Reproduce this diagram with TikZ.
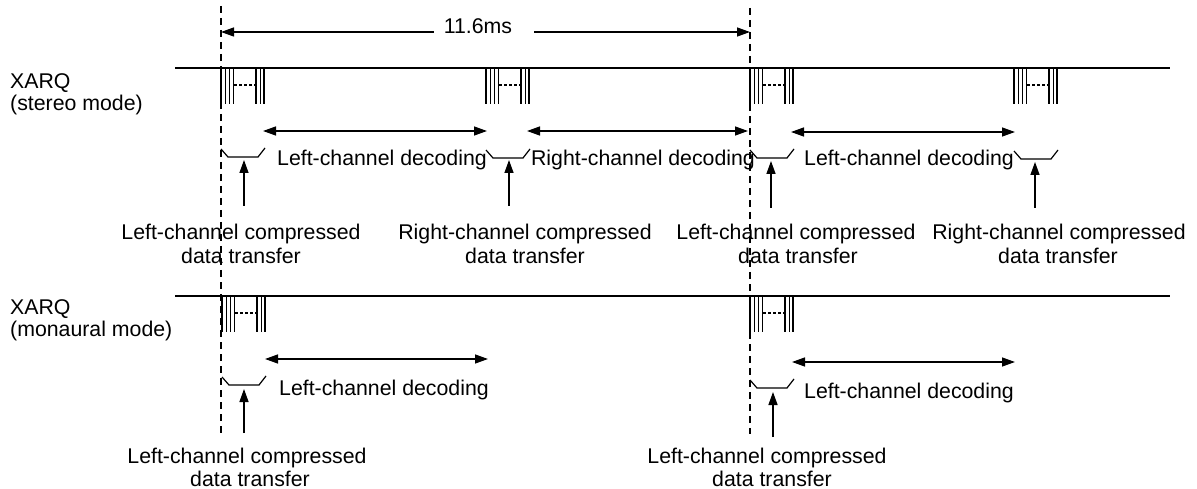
\documentclass[tikz,border=0pt]{standalone}
\usepackage{fontspec}
\setmainfont{Liberation Sans}
\usetikzlibrary{arrows.meta}
\newcommand\xburst[2]{%
  \draw[burstline] (#1,#2) -- ++(0,36) ({#1+4.3},#2) -- ++(0,36) ({#1+8.6},#2) -- ++(0,36) ({#1+12.4},#2) -- ++(0,36)
    ({#1+35},#2) -- ++(0,36) ({#1+39.3},#2) -- ++(0,36) ({#1+43},#2) -- ++(0,36);
  \draw[burstdash] ({#1+13},{#2+17}) -- ({#1+34},{#2+17});}
\newcommand\xbrk[2]{%
  \draw[brk] (#1,#2) -- ({#1+7},{#2+8}) -- ({#1+37},{#2+8}) -- ({#1+44},{#2-1});}
\begin{document}
\begin{tikzpicture}[x=1pt,y=-1pt,
  lbl/.style={font=\fontsize{21.3}{24}\selectfont, inner sep=0pt, anchor=base},
  side/.style={font=\fontsize{21.3}{22}\selectfont, inner sep=0pt, align=left, anchor=north west},
  baseline/.style={line width=2pt},
  guide/.style={line width=1.3pt, dash pattern=on 7pt off 5pt},
  burstline/.style={line width=1.6pt},
  burstdash/.style={line width=1.2pt, dash pattern=on 3pt off 2pt},
  tip/.tip={Triangle[length=13pt,width=9pt]},
  dec/.style={line width=1.4pt, tip-tip},
  dimarrow/.style={line width=1.3pt, -tip},
  up/.style={line width=1.4pt, -tip},
  brk/.style={line width=1.2pt}]
\useasboundingbox (0,0) rectangle (1197,489);

% guide lines
\coordinate (gAt) at (221,6);
\coordinate (gAb) at (221,433);
\coordinate (gBt) at (750,8);
\coordinate (gBb) at (750,434);
\draw[guide] (gAt) -- (gAb);
\draw[guide] (gBt) -- (gBb);

% dimension
\node[lbl] (dim) at (478,33.5) {11.6ms};
\coordinate (dA) at (221,32);
\coordinate (dB) at (750,32);
\draw[dimarrow] (dim.west |- dA) ++(-10,0) -- (dA);
\draw[dimarrow] (dim.east |- dB) ++(22,0) -- (dB);

% base lines
\coordinate (s0) at (175,68);
\coordinate (s1) at (1170,68);
\coordinate (m0) at (175,296);
\coordinate (m1) at (1170,296);
\draw[baseline] (s0) -- (s1);
\draw[baseline] (m0) -- (m1);

% side labels
\node[side] (xs) at (10,73.8) {XARQ\\(stereo mode)};
\node[side] (xm) at (10,299.8) {XARQ\\(monaural mode)};

% stereo bursts
\xburst{221}{68}
\xburst{486}{68}
\xburst{750}{68}
\xburst{1014}{68}
% monaural bursts
\xburst{222}{296}
\xburst{750}{296}

% stereo decoding arrows
\coordinate (a1) at (263,131);  \coordinate (b1) at (487,131);
\coordinate (a2) at (527,131);  \coordinate (b2) at (748,131);
\coordinate (a3) at (791,132);  \coordinate (b3) at (1015,132);
\draw[dec] (a1) -- (b1);
\draw[dec] (a2) -- (b2);
\draw[dec] (a3) -- (b3);
\node[lbl] (d1) at (382,165.5) {Left-channel decoding};
\node[lbl] (d2) at (643,165.5) {Right-channel decoding};
\node[lbl] (d3) at (909,166) {Left-channel decoding};

% stereo brackets
\xbrk{221}{149}
\xbrk{486}{150}
\xbrk{750}{150}
\xbrk{1014}{151}

% stereo up arrows
\coordinate (u1b) at (244,206); \coordinate (u1t) at (244,160);
\coordinate (u2b) at (509,206); \coordinate (u2t) at (509,160);
\coordinate (u3b) at (771,208); \coordinate (u3t) at (771,161);
\coordinate (u4b) at (1035,208); \coordinate (u4t) at (1035,162);
\draw[up] (u1b) -- (u1t);
\draw[up] (u2b) -- (u2t);
\draw[up] (u3b) -- (u3t);
\draw[up] (u4b) -- (u4t);

\node[lbl] (t1a) at (241,240) {Left-channel compressed};
\node[lbl] (t1b) at (241,263) {data transfer};
\node[lbl] (t2a) at (525,240) {Right-channel compressed};
\node[lbl] (t2b) at (525,263) {data transfer};
\node[lbl] (t3a) at (796,240) {Left-channel compressed};
\node[lbl] (t3b) at (798,263) {data transfer};
\node[lbl] (t4a) at (1059,240) {Right-channel compressed};
\node[lbl] (t4b) at (1058,263) {data transfer};

% monaural decoding
\coordinate (a4) at (265,359);  \coordinate (b4) at (488,359);
\coordinate (a5) at (792,362);  \coordinate (b5) at (1015,362);
\draw[dec] (a4) -- (b4);
\draw[dec] (a5) -- (b5);
\node[lbl] (d4) at (384,395) {Left-channel decoding};
\node[lbl] (d5) at (909,398) {Left-channel decoding};
\xbrk{222}{377}
\xbrk{750}{380}
\coordinate (u5b) at (244,433); \coordinate (u5t) at (244,389);
\coordinate (u6b) at (773,437); \coordinate (u6t) at (773,392);
\draw[up] (u5b) -- (u5t);
\draw[up] (u6b) -- (u6t);
\node[lbl] (t5a) at (247,463) {Left-channel compressed};
\node[lbl] (t5b) at (250,486) {data transfer};
\node[lbl] (t6a) at (767,463) {Left-channel compressed};
\node[lbl] (t6b) at (772,486) {data transfer};
\end{tikzpicture}
\end{document}
